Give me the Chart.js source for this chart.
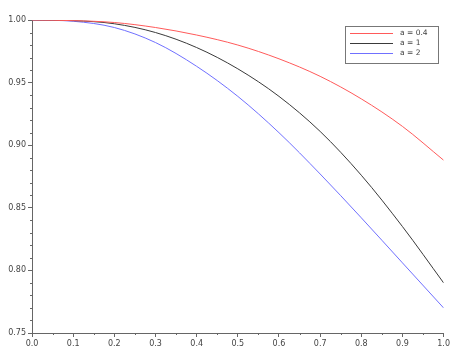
<!DOCTYPE html>
<html>
<head>
<meta charset="utf-8">
<script src="https://cdn.jsdelivr.net/npm/chart.js@4"></script>
<style>
    html, body { margin: 0; padding: 0; background: #fff; }
    #wrap { width: 452px; height: 363px; }
</style>
</head>
<body>
<div id="wrap"><canvas id="js--chart"></canvas></div>
<script>
// values
const xs = [0, 0.1, 0.2, 0.3, 0.4, 0.5, 0.6, 0.7, 0.8, 0.9, 1.0];
const red04 = [1.000, 0.9995, 0.998, 0.994, 0.988, 0.980, 0.969, 0.955, 0.937, 0.915, 0.888];
const black1 = [1.000, 0.9995, 0.997, 0.990, 0.978, 0.961, 0.939, 0.911, 0.876, 0.835, 0.790];
const blue2 = [1.000, 0.999, 0.994, 0.982, 0.963, 0.939, 0.910, 0.877, 0.842, 0.806, 0.770];
const seriesLabels = ["a = 0.4", "a = 1", "a = 2"];
const seriesColors = ["#ff5a5a", "#3a3a3a", "#7070ff"];
const xTicks = [0, 0.1, 0.2, 0.3, 0.4, 0.5, 0.6, 0.7, 0.8, 0.9, 1.0];
const yTicks = [0.75, 0.80, 0.85, 0.90, 0.95, 1.00];

const toPoints = (vals) => xs.map((x, i) => ({ x: x, y: vals[i] }));

const axisColor = "#666";
const tickFont = { family: "DejaVu Sans", size: 8 };

// short minor ticks between the labelled ones
const minorTicks = {
    id: "minorTicks",
    afterDraw(chart) {
        const ctx = chart.ctx;
        const xScale = chart.scales.x;
        const yScale = chart.scales.y;
        ctx.save();
        ctx.strokeStyle = axisColor;
        ctx.lineWidth = 1;
        ctx.beginPath();
        for (let i = 0; i < 10; i++) {
            const px = Math.round(xScale.getPixelForValue(i / 10 + 0.05)) + 0.5;
            ctx.moveTo(px, yScale.bottom);
            ctx.lineTo(px, yScale.bottom + 2);
        }
        for (let i = 0; i <= 25; i++) {
            if (i % 5 === 0) continue;
            const py = Math.round(yScale.getPixelForValue(0.75 + i / 100)) + 0.5;
            ctx.moveTo(xScale.left - 2, py);
            ctx.lineTo(xScale.left, py);
        }
        ctx.stroke();
        ctx.restore();
    }
};

// boxed legend in the top right corner
const boxLegend = {
    id: "boxLegend",
    afterDraw(chart) {
        const ctx = chart.ctx;
        const left = 345, top = 26, w = 93, h = 37;
        ctx.save();
        ctx.fillStyle = "#fff";
        ctx.fillRect(left, top, w, h);
        ctx.strokeStyle = "#777";
        ctx.lineWidth = 1;
        ctx.strokeRect(left + 0.5, top + 0.5, w, h);
        ctx.font = "7.5px 'DejaVu Sans'";
        ctx.textBaseline = "middle";
        chart.data.datasets.forEach((ds, i) => {
            const y = top + 7.5 + i * 10;
            ctx.strokeStyle = ds.borderColor;
            ctx.beginPath();
            ctx.moveTo(left + 5, y);
            ctx.lineTo(left + 48, y);
            ctx.stroke();
            ctx.fillStyle = "#444";
            ctx.fillText(ds.label, left + 55, y);
        });
        ctx.restore();
    }
};

const data = {
    datasets: [red04, black1, blue2].map((vals, i) => ({
        label: seriesLabels[i],
        data: toPoints(vals),
        borderColor: seriesColors[i],
        borderWidth: 1,
        pointRadius: 0,
        cubicInterpolationMode: "monotone",
        fill: false
    }))
};

const config = {
    type: "line",
    data: data,
    options: {
        responsive: false,
        animation: false,
        layout: { padding: { top: 20, right: 8, left: 0, bottom: 0 } },
        plugins: {
            legend: { display: false },
            tooltip: { enabled: false }
        },
        scales: {
            x: {
                type: "linear",
                min: 0,
                max: 1,
                afterBuildTicks: (s) => { s.ticks = xTicks.map(v => ({ value: v })); },
                afterFit: (s) => { s.height = 30; },
                border: { color: axisColor, width: 1 },
                grid: { drawOnChartArea: false, drawTicks: true, tickLength: 4, color: axisColor },
                ticks: {
                    color: "#444",
                    font: tickFont,
                    padding: 2,
                    maxRotation: 0,
                    callback: (v) => Number(v).toFixed(1)
                }
            },
            y: {
                min: 0.75,
                max: 1.0,
                afterBuildTicks: (s) => { s.ticks = yTicks.map(v => ({ value: v })); },
                afterFit: (s) => { s.width = 32; },
                border: { color: axisColor, width: 1 },
                grid: { drawOnChartArea: false, drawTicks: true, tickLength: 4, color: axisColor },
                ticks: {
                    color: "#444",
                    font: tickFont,
                    padding: 2,
                    callback: (v) => Number(v).toFixed(2)
                }
            }
        }
    },
    plugins: [minorTicks, boxLegend]
};

const canvas = document.getElementById("js--chart");
canvas.width = 452;
canvas.height = 363;
const graph = new Chart(canvas, config);
</script>
</body>
</html>
